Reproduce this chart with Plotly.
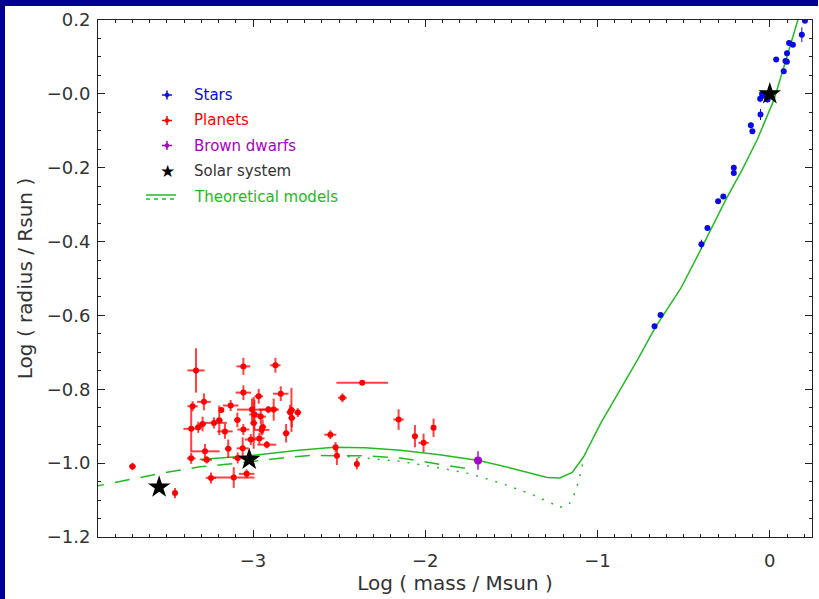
import plotly.graph_objects as go

# ---------------- data ----------------
star_mass = [-0.669, -0.634, -0.397, -0.362, -0.300, -0.270, -0.209, -0.209, -0.110, -0.101,
             -0.054, -0.056, -0.045, -0.033, -0.013, 0.037, 0.081, 0.091, 0.099, 0.100,
             0.112, 0.134, 0.186, 0.204]
star_rad = [-0.629, -0.599, -0.407, -0.363, -0.291, -0.278, -0.200, -0.214, -0.085, -0.101,
            -0.056, -0.013, 0.000, -0.004, -0.015, 0.093, 0.061, 0.089, 0.087, 0.110,
            0.138, 0.133, 0.160, 0.198]
star_ex = [0.004] * 24
star_ey = [0.006, 0.006, 0.012, 0.006, 0.006, 0.006, 0.008, 0.008, 0.008, 0.006,
           0.015, 0.010, 0.008, 0.010, 0.008, 0.006, 0.006, 0.006, 0.006, 0.008,
           0.006, 0.006, 0.020, 0.006]

planet_mass = [-3.700, -3.453, -3.331, -3.351, -3.285, -3.359, -3.318, -3.293, -3.227, -3.196,
               -3.184, -3.130, -3.163, -3.091, -3.056, -3.056, -2.967, -3.006, -2.992, -2.955,
               -2.996, -3.056, -2.944, -2.950, -2.911, -2.880, -2.839, -2.870, -2.777, -2.785,
               -2.740, -2.775, -2.808, -2.920, -2.963, -3.013, -3.060, -3.089, -3.144, -3.279,
               -3.359, -3.269, -3.244, -3.112, -3.037, -2.551, -2.521, -2.513, -2.481, -2.366,
               -2.397, -2.155, -2.060, -2.010, -1.952]
planet_rad = [-1.009, -1.081, -0.749, -0.846, -0.834, -0.907, -0.903, -0.894, -0.891, -0.884,
              -0.856, -0.844, -0.914, -0.883, -0.738, -0.809, -0.819, -0.855, -0.868, -0.874,
              -0.891, -0.909, -0.902, -0.910, -0.855, -0.855, -0.812, -0.735, -0.856, -0.862,
              -0.863, -0.878, -0.919, -0.950, -0.933, -0.936, -0.960, -0.986, -0.961, -0.968,
              -0.987, -0.991, -1.040, -1.039, -1.029, -0.923, -0.957, -0.980, -0.823, -0.782,
              -1.002, -0.882, -0.927, -0.945, -0.904]
planet_ex = [0.020, 0.000, 0.050, 0.030, 0.040, 0.045, 0.020, 0.020, 0.075, 0.020,
             0.000, 0.045, 0.045, 0.020, 0.040, 0.045, 0.025, 0.087, 0.030, 0.030,
             0.020, 0.035, 0.020, 0.045, 0.055, 0.030, 0.045, 0.030, 0.020, 0.020,
             0.020, 0.020, 0.020, 0.055, 0.030, 0.035, 0.035, 0.030, 0.020, 0.085,
             0.025, 0.030, 0.030, 0.120, 0.045, 0.035, 0.015, 0.010, 0.025, 0.150,
             0.010, 0.030, 0.010, 0.030, 0.010]
planet_ey = [0.010, 0.014, 0.060, 0.014, 0.023, 0.060, 0.015, 0.020, 0.015, 0.040,
             0.000, 0.015, 0.020, 0.020, 0.023, 0.020, 0.020, 0.030, 0.040, 0.020,
             0.070, 0.015, 0.020, 0.015, 0.010, 0.030, 0.020, 0.020, 0.060, 0.020,
             0.012, 0.025, 0.025, 0.010, 0.015, 0.015, 0.030, 0.015, 0.025, 0.020,
             0.015, 0.010, 0.015, 0.028, 0.012, 0.012, 0.014, 0.025, 0.012, 0.006,
             0.015, 0.028, 0.030, 0.025, 0.025]

bd_mass = [-1.694]
bd_rad = [-0.993]
bd_ex = [0.004]
bd_ey = [0.025]

solar_mass = [-3.545, -3.022, 0.0]
solar_rad = [-1.065, -0.990, 0.0]

model1_mass = [-3.31, -3.02, -2.75, -2.53, -2.35, -2.145, -1.917, -1.69, -1.506, -1.292,
               -1.219, -1.147, -1.08, -0.983, -0.87, -0.769, -0.663, -0.517, -0.401, -0.324,
               -0.256, -0.16, -0.072, 0.025, 0.103, 0.165, 0.20]
model1_rad = [-0.990, -0.980, -0.966, -0.957, -0.958, -0.965, -0.977, -0.993, -1.013, -1.039,
              -1.040, -1.025, -0.982, -0.893, -0.802, -0.721, -0.631, -0.527, -0.422, -0.350,
              -0.287, -0.205, -0.123, -0.015, 0.103, 0.203, 0.26]

model2_mass = [-3.95, -3.657, -3.483, -3.308, -3.17, -2.833, -2.663, -2.465, -2.349, -2.215,
               -2.145, -1.97, -1.80, -1.756]
model2_rad = [-1.066, -1.039, -1.023, -1.010, -1.004, -0.986, -0.979, -0.980, -0.980, -0.984,
              -0.986, -0.999, -1.012, -1.015]

model3_mass = [-2.45, -2.30, -2.145, -2.097, -1.913, -1.729, -1.564, -1.39, -1.273, -1.221,
               -1.167, -1.138, -1.109, -1.08]
model3_rad = [-0.982, -0.988, -0.995, -0.999, -1.013, -1.030, -1.054, -1.083, -1.107, -1.120,
              -1.113, -1.088, -1.048, -0.989]

xtick_vals = [-3, -2, -1, 0]
xtick_text = ["\u22123", "\u22122", "\u22121", "0"]
ytick_vals = [0.2, 0.0, -0.2, -0.4, -0.6, -0.8, -1.0, -1.2]
ytick_text = ["0.2", "\u22120.0", "\u22120.2", "\u22120.4", "\u22120.6", "\u22120.8", "\u22121.0", "\u22121.2"]

legend_labels = ["Stars", "Planets", "Brown dwarfs", "Solar system", "Theoretical models"]

# ---------------- styles ----------------
BLUE = "#0a0ae6"
RED = "#ff0000"
PURPLE = "#a800c8"
GREEN = "#22bb22"
TXT = "#333333"
FONT = "DejaVu Sans"

W, H = 819, 599
ML, MR, MT, MB = 98, 7, 20, 62
PW = W - ML - MR
PH = H - MT - MB


def px2x(px):
    return (px - ML) / PW


def py2y(py):
    return (H - MB - py) / PH


fig = go.Figure()

# models
fig.add_trace(go.Scatter(x=model2_mass, y=model2_rad, mode="lines",
                         line=dict(color=GREEN, width=1.5, dash="15px,11px"), hoverinfo="skip"))
fig.add_trace(go.Scatter(x=model3_mass, y=model3_rad, mode="lines",
                         line=dict(color=GREEN, width=1.5, dash="2px,8px"), hoverinfo="skip"))
fig.add_trace(go.Scatter(x=model1_mass, y=model1_rad, mode="lines",
                         line=dict(color=GREEN, width=1.5), hoverinfo="skip"))

# planets
fig.add_trace(go.Scatter(x=planet_mass, y=planet_rad, mode="markers",
                         marker=dict(color=RED, size=6),
                         error_x=dict(type="data", array=planet_ex, color="rgba(255,0,0,0.75)", thickness=2, width=0),
                         error_y=dict(type="data", array=planet_ey, color="rgba(255,0,0,0.75)", thickness=2, width=0)))
# brown dwarf
fig.add_trace(go.Scatter(x=bd_mass, y=bd_rad, mode="markers",
                         marker=dict(color=PURPLE, size=8),
                         error_x=dict(type="data", array=bd_ex, color="rgba(168,0,200,0.7)", thickness=2, width=0),
                         error_y=dict(type="data", array=bd_ey, color="rgba(168,0,200,0.7)", thickness=2, width=0)))
# stars
fig.add_trace(go.Scatter(x=star_mass, y=star_rad, mode="markers",
                         marker=dict(color=BLUE, size=6),
                         error_x=dict(type="data", array=star_ex, color=BLUE, thickness=1, width=0),
                         error_y=dict(type="data", array=star_ey, color=BLUE, thickness=1, width=0)))
# solar system
fig.add_trace(go.Scatter(x=solar_mass, y=solar_rad, mode="markers",
                         marker=dict(color="black", size=17, symbol="star")))

# ---------------- legend (manual) ----------------
shapes = []
annotations = []
rows = [95, 120.5, 145.5, 171, 197]
colors = [BLUE, RED, PURPLE, "black", GREEN]
txtcolors = [BLUE, RED, PURPLE, TXT, GREEN]
sx = 167
for i in range(3):
    py = rows[i]
    c = colors[i]
    shapes.append(dict(type="line", xref="paper", yref="paper",
                       x0=px2x(sx - 5), x1=px2x(sx + 5), y0=py2y(py), y1=py2y(py),
                       line=dict(color=c, width=1.5)))
    shapes.append(dict(type="line", xref="paper", yref="paper",
                       x0=px2x(sx), x1=px2x(sx), y0=py2y(py - 4.5), y1=py2y(py + 4.5),
                       line=dict(color=c, width=1.5)))
    shapes.append(dict(type="circle", xref="paper", yref="paper",
                       x0=px2x(sx - 2.2), x1=px2x(sx + 2.2), y0=py2y(py - 2.2), y1=py2y(py + 2.2),
                       fillcolor=c, line=dict(color=c, width=0)))
annotations.append(dict(xref="paper", yref="paper", x=px2x(sx), y=py2y(rows[3]),
                        text="\u2605", showarrow=False, font=dict(size=17, color="black", family=FONT),
                        xanchor="center", yanchor="middle"))
shapes.append(dict(type="line", xref="paper", yref="paper",
                   x0=px2x(146), x1=px2x(176), y0=py2y(195), y1=py2y(195),
                   line=dict(color=GREEN, width=1.5)))
shapes.append(dict(type="line", xref="paper", yref="paper",
                   x0=px2x(146), x1=px2x(176), y0=py2y(199), y1=py2y(199),
                   line=dict(color=GREEN, width=1.5, dash="4px,4px")))
for i, lab in enumerate(legend_labels):
    annotations.append(dict(xref="paper", yref="paper", x=px2x(192), y=py2y(rows[i]),
                            text=lab, showarrow=False, xanchor="left", yanchor="middle",
                            font=dict(size=15, color=txtcolors[i], family=FONT)))

# navy frame strips (left and top)
NAVY = "#000096"
shapes.append(dict(type="rect", xref="paper", yref="paper", layer="below",
                   x0=px2x(0), x1=px2x(5), y0=py2y(H), y1=py2y(0),
                   fillcolor=NAVY, line=dict(width=0)))
shapes.append(dict(type="rect", xref="paper", yref="paper", layer="below",
                   x0=px2x(0), x1=px2x(W - 1), y0=py2y(6), y1=py2y(0),
                   fillcolor=NAVY, line=dict(width=0)))

axis_common = dict(showgrid=False, zeroline=False, showline=True, linecolor="#222222", linewidth=1,
                   ticks="inside", ticklen=7, tickcolor="#222222", tickwidth=1, mirror="allticks",
                   tickfont=dict(size=18, color=TXT, family=FONT))

fig.update_layout(
    width=W, height=H,
    margin=dict(l=ML, r=MR, t=MT, b=MB, pad=0),
    paper_bgcolor="white", plot_bgcolor="white",
    showlegend=False,
    shapes=shapes, annotations=annotations,
    xaxis=dict(range=[-3.9, 0.245], tickvals=xtick_vals, ticktext=xtick_text, ticklabelstandoff=7,
               minor=dict(dtick=0.1, tick0=0, ticks="inside", ticklen=3, tickcolor="#222222"),
               title=dict(text="Log ( mass / Msun )", font=dict(size=20, color=TXT, family=FONT), standoff=2),
               **axis_common),
    yaxis=dict(range=[-1.2, 0.2], tickvals=ytick_vals, ticktext=ytick_text, ticklabelstandoff=3,
               minor=dict(dtick=0.05, tick0=0, ticks="inside", ticklen=3, tickcolor="#222222"),
               title=dict(text="Log ( radius / Rsun )", font=dict(size=20, color=TXT, family=FONT), standoff=8),
               **axis_common),
)

fig.write_html("out.html")
